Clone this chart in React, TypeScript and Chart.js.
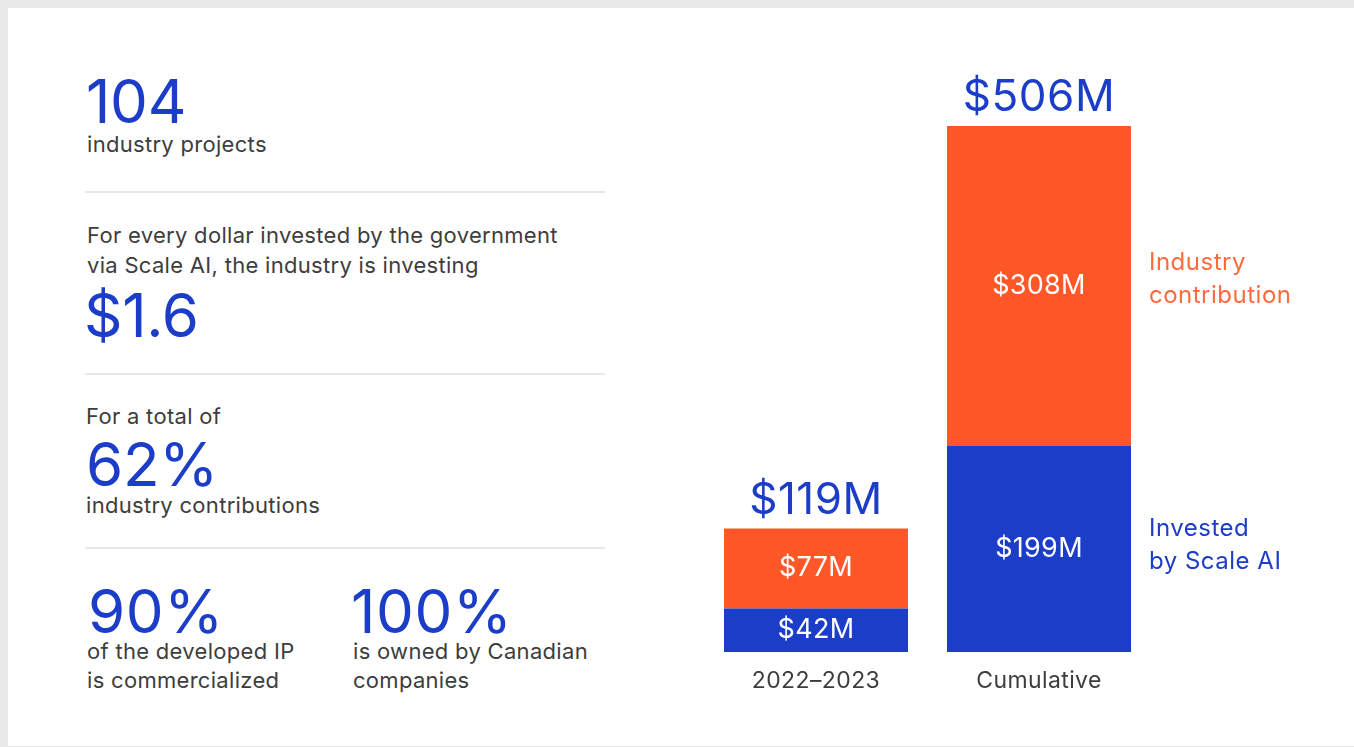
import React, { useEffect, useRef } from "react";
import { Chart, registerables } from "chart.js";

Chart.register(...registerables);

const categories = ["2022–2023", "Cumulative"];
const investedByScaleAI = [42, 199];
const industryContribution = [77, 308];
const totals = [119, 506];
const seriesNames = ["Invested by Scale AI", "Industry contribution"];
const seriesLegendLines = [["Invested", "by Scale AI"], ["Industry", "contribution"]];

const BLUE = "#1b3dc8";
const ORANGE = "#ff5728";
const ORANGE_TEXT = "#ff6a3d";
const GRAY_TEXT = "#3d3d3d";
const FONT = "Inter, 'Noto Sans', sans-serif";

const labelsPlugin = {
  id: "customLabels",
  afterDatasetsDraw(chart: any) {
    const ctx = chart.ctx as CanvasRenderingContext2D;
    const metas = [chart.getDatasetMeta(0), chart.getDatasetMeta(1)];
    const values = [investedByScaleAI, industryContribution];
    ctx.save();
    ctx.textAlign = "center";
    for (let i = 0; i < categories.length; i++) {
      // segment labels
      for (let d = 0; d < metas.length; d++) {
        const el = metas[d].data[i];
        const { x, y, base } = el.getProps(["x", "y", "base"], true);
        const mid = (y + base) / 2;
        ctx.fillStyle = "#ffffff";
        ctx.font = `400 27px ${FONT}`;
        (ctx as any).letterSpacing = "0.3px";
        ctx.textBaseline = "alphabetic";
        ctx.fillText(`$${values[d][i]}M`, x, mid + 8);
      }
      // totals
      const topEl = metas[1].data[i];
      const tp = topEl.getProps(["x", "y"], true);
      ctx.fillStyle = BLUE;
      ctx.font = `400 44px ${FONT}`;
      (ctx as any).letterSpacing = "0.5px";
      ctx.fillText(`$${totals[i]}M`, tp.x, tp.y - 15);
      // category labels
      ctx.fillStyle = GRAY_TEXT;
      ctx.font = `400 23px ${FONT}`;
      (ctx as any).letterSpacing = "0.4px";
      ctx.fillText(categories[i], tp.x, chart.chartArea.bottom + 36);
    }
    // side legend next to the last bar
    const last = categories.length - 1;
    ctx.textAlign = "left";
    ctx.font = `400 24px ${FONT}`;
    (ctx as any).letterSpacing = "0.5px";
    for (let d = 0; d < metas.length; d++) {
      const el = metas[d].data[last];
      const { x, y, base, width } = el.getProps(["x", "y", "base", "width"], true);
      const mid = (y + base) / 2 - (d === 1 ? 7 : 4);
      const lx = x + width / 2 + 18;
      ctx.fillStyle = d === 0 ? BLUE : ORANGE_TEXT;
      const lines = seriesLegendLines[d];
      ctx.fillText(lines[0], lx, mid - 16.5 + 8);
      ctx.fillText(lines[1], lx, mid + 16.5 + 8);
    }
    ctx.restore();
  },
};

function BarChart() {
  const ref = useRef<HTMLCanvasElement | null>(null);
  useEffect(() => {
    if (!ref.current) return;
    const chart = new Chart(ref.current, {
      type: "bar",
      data: {
        labels: categories,
        datasets: [
          {
            label: seriesNames[0],
            data: investedByScaleAI,
            backgroundColor: BLUE,
            borderWidth: 0,
            barPercentage: 1,
            categoryPercentage: 0.825,
          },
          {
            label: seriesNames[1],
            data: industryContribution,
            backgroundColor: ORANGE,
            borderWidth: 0,
            barPercentage: 1,
            categoryPercentage: 0.825,
          },
        ],
      },
      options: {
        animation: false,
        responsive: false,
        maintainAspectRatio: false,
        layout: { padding: { left: 64.5, right: 189.5, top: 31, bottom: 68 } },
        scales: {
          x: { stacked: true, display: false },
          y: { stacked: true, display: false, min: 0, max: 560 },
        },
        plugins: { legend: { display: false }, tooltip: { enabled: false } },
      },
      plugins: [labelsPlugin],
    });
    return () => chart.destroy();
  }, []);
  return (
    <canvas
      ref={ref}
      width={700}
      height={680}
      style={{ position: "absolute", left: 640, top: 40, width: 700, height: 680 }}
    />
  );
}

const big: React.CSSProperties = {
  position: "absolute",
  fontFamily: FONT,
  fontSize: 60,
  lineHeight: "60px",
  color: BLUE,
  fontWeight: 400,
  letterSpacing: "-0.005em",
  whiteSpace: "nowrap",
};
const small: React.CSSProperties = {
  position: "absolute",
  fontFamily: FONT,
  fontSize: 22,
  lineHeight: "30px",
  color: GRAY_TEXT,
  fontWeight: 400,
  letterSpacing: "0.3px",
  whiteSpace: "nowrap",
};
const divider = (top: number): React.CSSProperties => ({
  position: "absolute",
  left: 85,
  width: 520,
  top,
  height: 2,
  background: "#e8e8e8",
});

export default function App() {
  return (
    <div style={{ position: "fixed", left: 0, top: 0, width: 1354, height: 747, background: "#e8e8e8", overflow: "hidden" }}>
      <div style={{ position: "absolute", left: 8, top: 8, width: 1346, height: 738, background: "#ffffff" }} />
      <div style={{ ...big, left: 86, top: 71 }}>104</div>
      <div style={{ ...small, left: 87, top: 129 }}>industry projects</div>
      <div style={divider(191)} />
      <div style={{ ...small, left: 87, top: 220 }}>
        For every dollar invested by the government
        <br />
        via Scale AI, the industry is investing
      </div>
      <div style={{ ...big, left: 84, top: 285 }}>$1.6</div>
      <div style={divider(373)} />
      <div style={{ ...small, left: 86, top: 401 }}>For a total of</div>
      <div style={{ ...big, left: 86, top: 434 }}>62%</div>
      <div style={{ ...small, left: 86, top: 490 }}>industry contributions</div>
      <div style={divider(547)} />
      <div style={{ ...big, left: 88, top: 581, letterSpacing: "0.01em" }}>90%</div>
      <div style={{ ...big, left: 351, top: 581, letterSpacing: "0.01em" }}>100%</div>
      <div style={{ ...small, left: 87, top: 637, lineHeight: "29px" }}>
        of the developed IP
        <br />
        is commercialized
      </div>
      <div style={{ ...small, left: 353, top: 637, lineHeight: "29px" }}>
        is owned by Canadian
        <br />
        companies
      </div>
      <BarChart />
    </div>
  );
}
